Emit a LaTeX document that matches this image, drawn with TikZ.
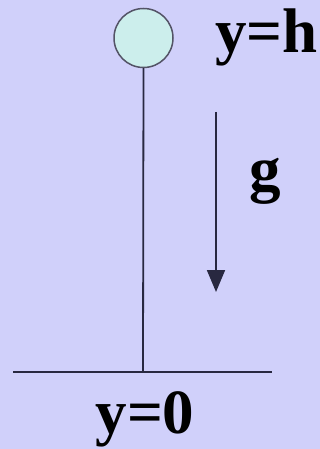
\documentclass[tikz,border=0pt]{standalone}
\usepackage{fontspec}
\setmainfont{Liberation Serif}
\usetikzlibrary{arrows.meta}

\definecolor{bgcol}{RGB}{208,208,250}
\definecolor{ballcol}{RGB}{204,238,236}
\definecolor{linecol}{RGB}{40,40,64}

\begin{document}
\begin{tikzpicture}[x=1pt, y=-1pt,
  lbl/.style={font=\fontsize{63}{70}\selectfont\bfseries, inner sep=0pt},
  rod/.style={linecol, line width=1.8pt}]

\fill[bgcol] (0,0) rectangle (320,449);
\useasboundingbox (0,0) rectangle (320,449);

\coordinate (GL) at (13,372);
\coordinate (GR) at (272,372);
\coordinate (F) at (143,372);

\draw[rod] (GL) -- (GR);
\node[circle, draw=linecol!80, fill=ballcol, line width=1.5pt,
      minimum size=59pt, inner sep=0pt] (ball) at (143.5,38) {};
\draw[rod] (ball.south) -- (F);

\coordinate (A) at (216,112);
\coordinate (B) at (216,292);
\draw[rod, -{Triangle[width=18pt, length=22pt]}] (A) -- (B);

\node[lbl, anchor=base west] (top) at (215,53) {y=h};
\node[lbl, anchor=base west] (acc) at (249,190) {g};
\node[lbl, anchor=base] (ground) at (145,433) {y=0};

\end{tikzpicture}
\end{document}
